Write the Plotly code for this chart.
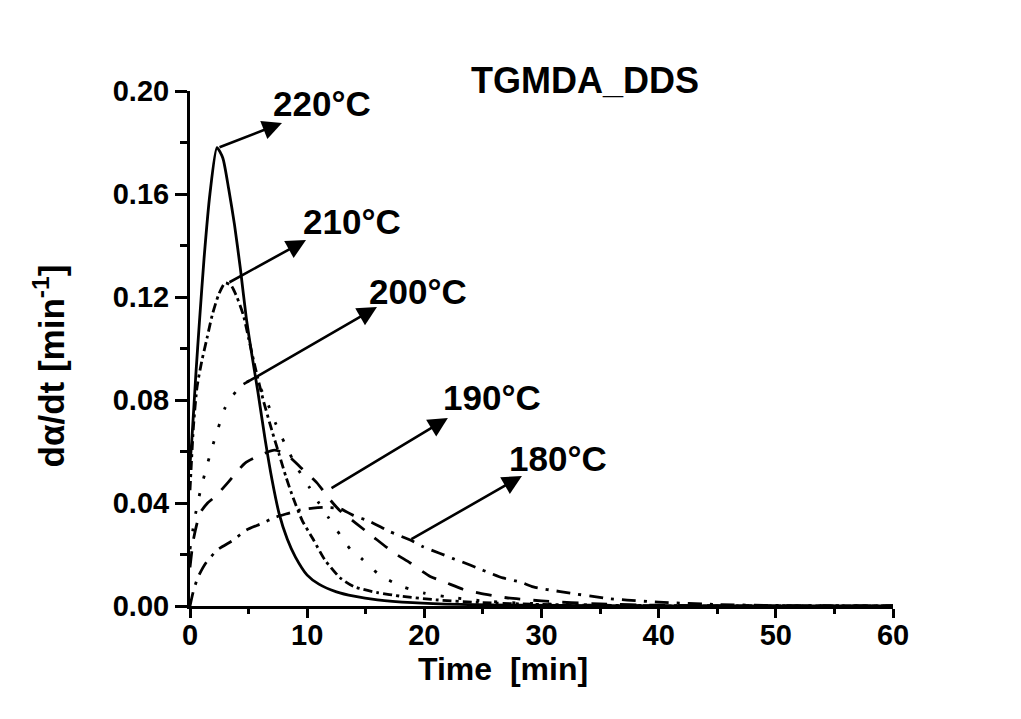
import plotly.graph_objects as go

# ---- data ----
time_220 = [0, 0.15, 0.5, 0.8, 1.2, 1.7, 2.3, 2.8, 3.3, 3.8, 4.3, 4.8, 5.3, 5.8, 6.4, 7.0, 7.6, 8.3, 9.0, 10.0, 11.0, 12.5, 14, 16, 19, 23, 28, 35, 45, 60]
rate_220 = [0.055, 0.064, 0.090, 0.110, 0.135, 0.160, 0.178, 0.174, 0.162, 0.148, 0.131, 0.112, 0.097, 0.083, 0.065, 0.049, 0.036, 0.026, 0.019, 0.012, 0.0085, 0.0055, 0.0038, 0.0024, 0.0013, 0.0006, 0.0003, 0.0001, 0.0, 0.0]

time_210 = [0, 0.3, 0.6, 1.0, 1.45, 1.9, 2.45, 3.0, 3.5, 4.0, 4.55, 5.0, 5.6, 6.25, 7.0, 7.6, 8.2, 8.8, 9.6, 10.5, 11.5, 12.8, 14.0, 16.0, 18.0, 21, 25, 30, 40, 60]
rate_210 = [0.045, 0.070, 0.085, 0.095, 0.104, 0.113, 0.121, 0.1255, 0.1245, 0.120, 0.113, 0.104, 0.092, 0.080, 0.068, 0.059, 0.050, 0.042, 0.033, 0.026, 0.018, 0.011, 0.0075, 0.0052, 0.0038, 0.0024, 0.0013, 0.0006, 0.0001, 0.0]

time_200 = [0, 0.4, 0.85, 1.3, 1.85, 2.4, 3.0, 3.7, 4.4, 5.1, 5.8, 6.5, 7.3, 8.1, 9.1, 10.2, 11.0, 11.8, 12.9, 13.7, 14.6, 16.2, 18.2, 20, 22, 25, 28, 32, 40, 60]
rate_200 = [0.022, 0.034, 0.044, 0.052, 0.061, 0.069, 0.077, 0.082, 0.0855, 0.0875, 0.086, 0.080, 0.071, 0.063, 0.054, 0.046, 0.040, 0.0345, 0.027, 0.022, 0.0186, 0.012, 0.0074, 0.005, 0.0035, 0.002, 0.0012, 0.0006, 0.0002, 0.0]

time_190 = [0, 0.3, 0.85, 1.5, 2.15, 3.25, 4.7, 6.1, 7.2, 8.2, 9.4, 10.8, 12.0, 12.8, 14.2, 15.6, 17.3, 18.8, 20.5, 21.9, 23.3, 24.7, 27, 30, 35, 40, 50, 60]
rate_190 = [0.015, 0.026, 0.036, 0.040, 0.0425, 0.048, 0.0555, 0.0588, 0.0605, 0.059, 0.054, 0.048, 0.041, 0.037, 0.032, 0.027, 0.021, 0.0167, 0.0115, 0.009, 0.0065, 0.005, 0.0032, 0.002, 0.0008, 0.0003, 0.0, 0.0]

time_180 = [0, 0.3, 0.7, 1.4, 2.4, 3.7, 4.8, 6.1, 7.3, 8.4, 9.4, 10.5, 11.5, 12.8, 13.9, 15.4, 17.0, 18.8, 19.9, 21.3, 22.4, 23.3, 24.5, 25.6, 26.7, 28.2, 29.3, 31.6, 35.5, 37.3, 40, 45, 50, 60]
rate_180 = [0.0, 0.006, 0.0114, 0.017, 0.022, 0.0256, 0.0295, 0.032, 0.0345, 0.036, 0.0373, 0.038, 0.0383, 0.0378, 0.0353, 0.0327, 0.029, 0.0256, 0.023, 0.0205, 0.0185, 0.017, 0.0148, 0.0128, 0.0109, 0.0093, 0.0074, 0.0056, 0.003, 0.0023, 0.0015, 0.0006, 0.0002, 0.0]

series_names = ["220°C", "210°C", "200°C", "190°C", "180°C"]
series_time = [time_220, time_210, time_200, time_190, time_180]
series_rate = [rate_220, rate_210, rate_200, rate_190, rate_180]

x_tick_vals = [0, 10, 20, 30, 40, 50, 60]
y_tick_vals = [0.00, 0.04, 0.08, 0.12, 0.16, 0.20]
y_tick_text = ["0.00", "0.04", "0.08", "0.12", "0.16", "0.20"]

# label / arrow placement (data units)
label_x = [11.26, 13.82, 19.45, 25.77, 31.4]
label_y = [0.1953, 0.1495, 0.1223, 0.0808, 0.0571]
arrow_tail_x = [2.39, 3.24, 4.44, 11.95, 18.77]
arrow_tail_y = [0.1779, 0.1254, 0.0858, 0.0454, 0.0256]
arrow_head_x = [7.85, 9.90, 15.96, 22.01, 28.33]
arrow_head_y = [0.1876, 0.1421, 0.1161, 0.0730, 0.0505]

# ---- styles ----
dash_styles = ["solid", "9px,4px,3px,4px", "3px,15px", "16px,13px", "14px,8px,3px,8px"]
FONT = "Liberation Sans, Arial, sans-serif"

fig = go.Figure()
for name, t, r, d in zip(series_names, series_time, series_rate, dash_styles):
    fig.add_trace(go.Scatter(
        x=t, y=r, mode="lines", name=name,
        line=dict(color="black", width=2.8, dash=d, shape="spline", smoothing=0.6),
        showlegend=False,
    ))

annotations = []
for i, name in enumerate(series_names):
    annotations.append(dict(
        x=arrow_head_x[i], y=arrow_head_y[i], xref="x", yref="y",
        ax=arrow_tail_x[i], ay=arrow_tail_y[i], axref="x", ayref="y",
        text="", showarrow=True, arrowhead=2, arrowsize=1.5, arrowwidth=2.6,
        arrowcolor="black", standoff=0, startstandoff=0,
    ))
    annotations.append(dict(
        x=label_x[i], y=label_y[i], xref="x", yref="y",
        text="<b>" + name + "</b>", showarrow=False,
        font=dict(family=FONT, size=35, color="black"),
        xanchor="center", yanchor="middle",
    ))

annotations.append(dict(
    x=0.562, y=1.021, xref="paper", yref="paper", text="<b>TGMDA_DDS</b>",
    showarrow=False, font=dict(family=FONT, size=36, color="black"),
    xanchor="center", yanchor="middle",
))
annotations.append(dict(
    x=0.445, y=-0.122, xref="paper", yref="paper", text="<b>Time  [min]</b>",
    showarrow=False, font=dict(family=FONT, size=32, color="black"),
    xanchor="center", yanchor="middle",
))
annotations.append(dict(
    x=-0.200, y=0.466, xref="paper", yref="paper",
    text="<b>dα/dt [min<sup>-1</sup>]</b>", textangle=-90,
    showarrow=False, font=dict(family=FONT, size=35, color="black"),
    xanchor="center", yanchor="middle",
))

# page body has an 8px margin, so the plot area is placed to land at
# x 190..893, y 91..606 in the window
fig.update_layout(
    width=1021, height=719, autosize=False,
    margin=dict(l=182, r=136, t=83, b=121),
    paper_bgcolor="white", plot_bgcolor="white",
    annotations=annotations,
    font=dict(family=FONT, color="black"),
)
fig.update_xaxes(
    range=[0, 60], tickvals=x_tick_vals, showgrid=False, zeroline=False,
    showline=True, linecolor="black", linewidth=3,
    ticks="outside", ticklen=9, tickwidth=2.5, tickcolor="black",
    ticklabelstandoff=-8,
    tickfont=dict(family=FONT, size=29, color="black", weight="bold"),
    minor=dict(ticks="outside", ticklen=5, tickwidth=2.5, tickcolor="black", dtick=5, showgrid=False),
)
fig.update_yaxes(
    range=[0, 0.2], tickvals=y_tick_vals, ticktext=y_tick_text, showgrid=False, zeroline=False,
    showline=True, linecolor="black", linewidth=3,
    ticks="outside", ticklen=12, tickwidth=2.5, tickcolor="black",
    tickfont=dict(family=FONT, size=29, color="black", weight="bold"),
    minor=dict(ticks="outside", ticklen=7, tickwidth=2.5, tickcolor="black", dtick=0.02, showgrid=False),
)

fig.write_html("out.html")
